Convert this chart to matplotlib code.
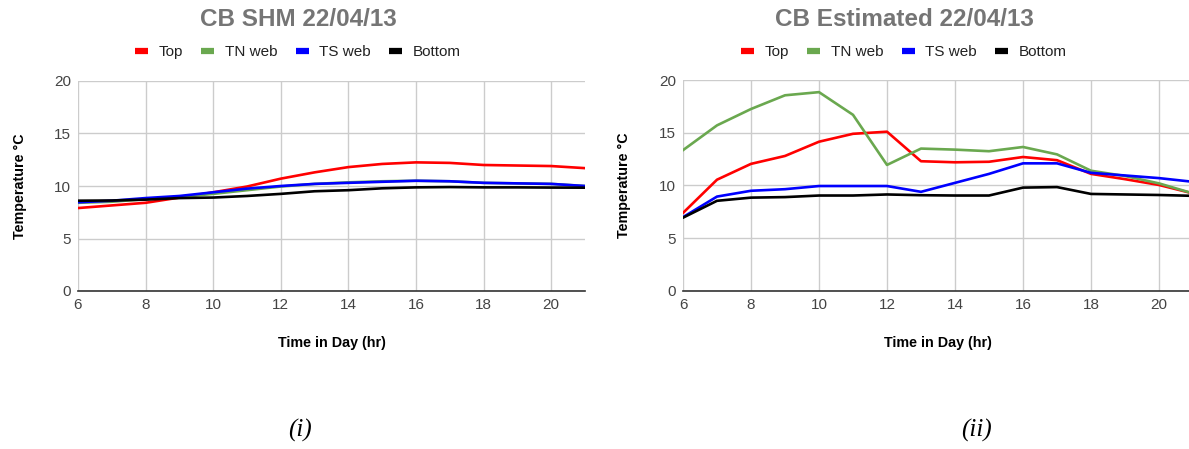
import matplotlib.pyplot as plt
from matplotlib.lines import Line2D

plt.rcParams['font.family'] = ['Liberation Sans', 'DejaVu Sans']

hours = [6, 7, 8, 9, 10, 11, 12, 13, 14, 15, 16, 17, 18, 19, 20, 21]

# (i) CB SHM 22/04/13
shm_top = [7.9, 8.15, 8.4, 8.9, 9.4, 9.95, 10.7, 11.3, 11.8, 12.1, 12.25, 12.2, 12.0, 11.95, 11.9, 11.7]
shm_tn = [8.4, 8.5, 8.75, 8.95, 9.25, 9.6, 9.95, 10.2, 10.35, 10.45, 10.5, 10.45, 10.3, 10.25, 10.2, 10.0]
shm_ts = [8.45, 8.6, 8.85, 9.05, 9.4, 9.75, 10.0, 10.2, 10.3, 10.4, 10.5, 10.45, 10.3, 10.25, 10.2, 10.0]
shm_bottom = [8.6, 8.62, 8.7, 8.85, 8.9, 9.05, 9.25, 9.5, 9.6, 9.78, 9.87, 9.9, 9.87, 9.87, 9.85, 9.84]

# (ii) CB Estimated 22/04/13
est_top = [7.4, 10.55, 12.05, 12.8, 14.15, 14.9, 15.1, 12.3, 12.2, 12.25, 12.7, 12.4, 11.1, 10.6, 10.05, 9.25]
est_tn = [13.35, 15.7, 17.25, 18.55, 18.85, 16.7, 11.95, 13.5, 13.4, 13.25, 13.65, 12.95, 11.4, 10.9, 10.2, 9.25]
est_ts = [7.0, 8.95, 9.5, 9.65, 9.95, 9.95, 9.95, 9.4, 10.25, 11.1, 12.1, 12.1, 11.2, 10.95, 10.7, 10.35]
est_bottom = [6.95, 8.55, 8.85, 8.9, 9.05, 9.05, 9.15, 9.08, 9.05, 9.05, 9.8, 9.85, 9.2, 9.15, 9.1, 9.02]

names = ['Top', 'TN web', 'TS web', 'Bottom']
colors = ['#ff0000', '#6aa84f', '#0000ff', '#000000']

fig = plt.figure(figsize=(11.89, 4.49), dpi=100)
ax1 = fig.add_axes([78 / 1189, 1 - 291 / 449, 507 / 1189, 210 / 449])
ax2 = fig.add_axes([683 / 1189, 1 - 291 / 449, 510 / 1189, 211 / 449])


def style(ax, series, title, tx, cap, cx):
    for vals, c in zip(series, colors):
        ax.plot(hours, vals, color=c, lw=1.9, solid_joinstyle='round')
    ax.set_xlim(6, 21)
    ax.set_ylim(0, 20)
    ax.set_xticks([6, 8, 10, 12, 14, 16, 18, 20])
    ax.set_yticks([0, 5, 10, 15, 20])
    ax.grid(True, color='#cccccc', lw=1)
    ax.set_axisbelow(True)
    for s in ['top', 'right', 'left']:
        ax.spines[s].set_visible(False)
    ax.spines['bottom'].set_color('#333333')
    ax.spines['bottom'].set_linewidth(1.2)
    ax.tick_params(length=0, labelsize=11, labelcolor='#444444', pad=5)
    ax.set_xlabel('Time in Day (hr)', fontsize=10.3, fontweight='bold', labelpad=17)
    ax.set_ylabel('Temperature °C', fontsize=10.3, fontweight='bold')
    ax.yaxis.set_label_coords(-0.101, 0.5)
    fig.text(tx, 1 - 20 / 449, title, ha='center', va='center',
             fontsize=17.5, fontweight='bold', color='#757575')
    handles = [Line2D([], [], color=c, lw=4.5, solid_capstyle='butt') for c in colors]
    fig.legend(handles, names, loc='center', bbox_to_anchor=(tx, 1 - 52 / 449),
               ncol=4, frameon=False, fontsize=11, handlelength=0.85,
               handletextpad=0.7, columnspacing=1.2, labelcolor='#222222')
    fig.text(cx, 1 - 430 / 449, cap, ha='center', va='center', fontsize=18,
             fontstyle='italic', family=['Liberation Serif', 'DejaVu Serif'])


style(ax1, [shm_top, shm_tn, shm_ts, shm_bottom], 'CB SHM 22/04/13', 298 / 1189, '(i)', 300 / 1189)
style(ax2, [est_top, est_tn, est_ts, est_bottom], 'CB Estimated 22/04/13', 904 / 1189, '(ii)', 977 / 1189)

fig.savefig('out.png', dpi=100)
